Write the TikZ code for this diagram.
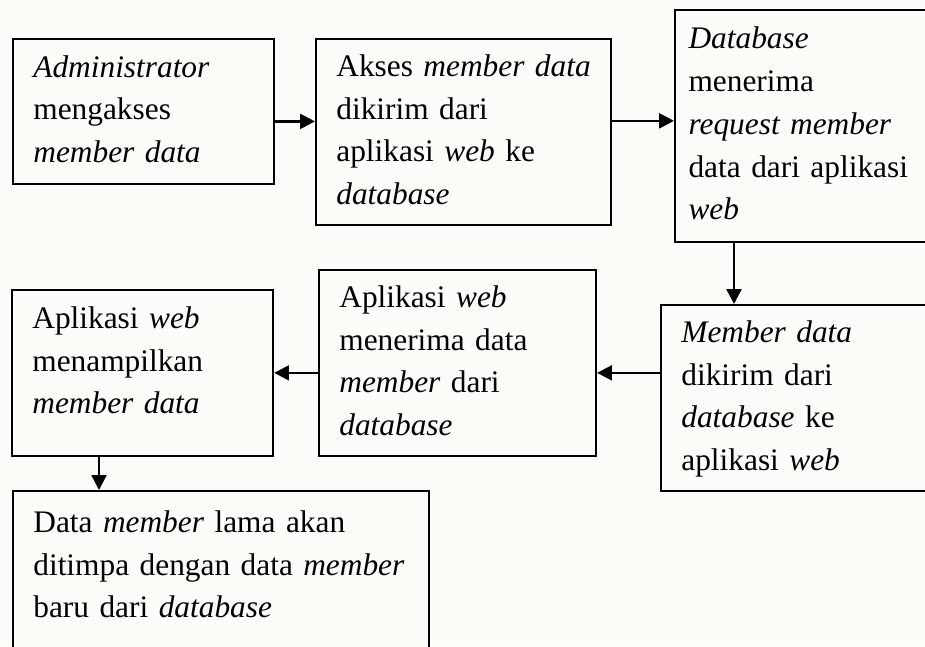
\documentclass[tikz,border=0pt]{standalone}
\usepackage{fontspec}
\setmainfont{Liberation Serif}
\usetikzlibrary{arrows.meta, positioning}
\definecolor{kertas}{RGB}{252,252,248}
% lines of a box, broken by hand only
\newcommand{\isi}[1]{\begin{tabular}{@{}l@{}}#1\end{tabular}}

\begin{document}
\begin{tikzpicture}[
    x=0.44pt, y=-0.44pt,
    proses/.style={rectangle, draw=black, line width=0.8pt, fill=kertas, anchor=north west, align=left, inner xsep=9pt, inner ysep=0pt, font=\fontsize{13.8}{18.8}\selectfont},
    arrow/.style={-{Triangle[length=6.5pt, width=6.5pt]}, line width=1.1pt}
]

    % page
    \useasboundingbox (0,0) rectangle (925,646);
    \clip (0,0) rectangle (925,646);
    \fill[kertas] (0,0) rectangle (925,646);

    % upper row
    \node[proses, text width=97pt, minimum height=63.8pt] (admin) at (12,38) {\isi{\textit{Administrator}\\mengakses\\\textit{member data}}};
    \node[proses, text width=112pt, minimum height=81.8pt] (akses) at (315,38) {\isi{Akses \textit{member data}\\dikirim dari\\aplikasi \textit{web} ke\\\textit{database}}};
    \node[proses, inner xsep=6pt, text width=103pt, minimum height=102pt] (dbreq) at (674,9) {\isi{\textit{Database}\\menerima\\\textit{request member}\\data dari aplikasi\\\textit{web}}};

    % lower row
    \node[proses, text width=103pt, minimum height=81.8pt] (kirim) at (660,304) {\isi{\textit{Member data}\\dikirim dari\\\textit{database} ke\\aplikasi \textit{web}}};
    \node[proses, text width=104pt, minimum height=81.8pt] (terima) at (318,269) {\isi{Aplikasi \textit{web}\\menerima data\\\textit{member} dari\\\textit{database}}};
    \node[proses, text width=97pt, minimum height=73pt] (tampil) at (11,289) {\isi{Aplikasi \textit{web}\\menampilkan\\\textit{member data}\\[9pt]}};
    \node[proses, text width=165pt, minimum height=78pt] (timpa) at (12,490) {\isi{Data \textit{member} lama akan\\ditimpa dengan data \textit{member}\\baru dari \textit{database}\\[11.5pt]}};

    % flow
    \draw[arrow] (admin.east) ++(0,10) coordinate (a1) -- (a1 -| akses.west);
    \draw[arrow] (akses.east) ++(0,-11) coordinate (a2) -- (a2 -| dbreq.west);
    \draw[arrow] (dbreq.south west) ++(60,0) coordinate (a3) -- (a3 |- kirim.north);
    \draw[arrow] (kirim.west |- tampil.east) -- (terima.east |- tampil.east);
    \draw[arrow] (terima.west |- tampil.east) -- (tampil.east);
    \draw[arrow] (tampil.south west) ++(88,0) coordinate (a6) -- (a6 |- timpa.north);

\end{tikzpicture}
\end{document}
